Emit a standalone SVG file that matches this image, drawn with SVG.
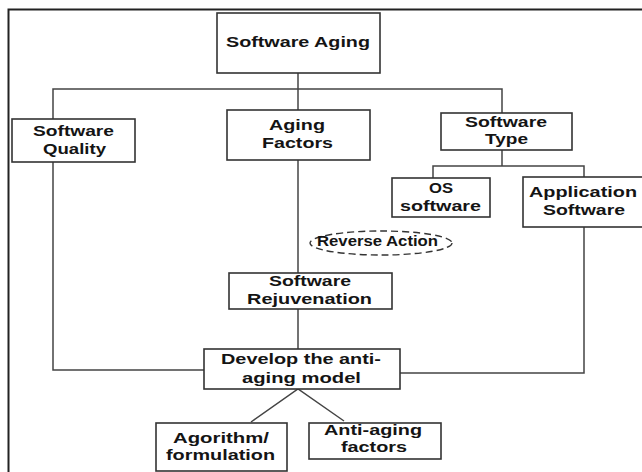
<svg xmlns="http://www.w3.org/2000/svg" width="642" height="472" viewBox="0 0 642 472">
<style>
.box{fill:#fff;stroke:#333;stroke-width:1.6}
.t{font-family:"Liberation Sans",Arial,sans-serif;font-weight:bold;font-size:15.5px;fill:#141414;text-anchor:middle}
.c{fill:none;stroke:#444;stroke-width:1.5}
</style>
<rect width="642" height="472" fill="#fff"/>
<path d="M8.5,472 V9.5 H642" fill="none" stroke="#222" stroke-width="2"/>
<g id="connectors">
<path class="c" d="M298,73 V110"/>
<path class="c" d="M53,119 V89 H502 V113"/>
<path class="c" d="M502,150 V166"/>
<path class="c" d="M433,178 V166 H584 V177"/>
<path class="c" d="M53,162 V370 H204"/>
<path class="c" d="M584,227 V373 H400"/>
<path class="c" d="M298,160 V273"/>
<path class="c" d="M298,309 V349"/>
<path class="c" d="M251,422 L298,389 L344,421"/>
</g>
<g id="software-aging">
<rect class="box" x="217" y="13" width="163" height="60"/>
<text class="t" x="298" y="47" font-size="17" textLength="144" lengthAdjust="spacingAndGlyphs">Software Aging</text>
</g>
<g id="software-quality">
<rect class="box" x="12" y="119" width="123" height="43"/>
<text class="t" x="73.5" y="136" textLength="81" lengthAdjust="spacingAndGlyphs">Software</text>
<text class="t" x="74.5" y="154" textLength="63" lengthAdjust="spacingAndGlyphs">Quality</text>
</g>
<g id="aging-factors">
<rect class="box" x="227" y="110" width="143" height="50"/>
<text class="t" x="297" y="130" textLength="56" lengthAdjust="spacingAndGlyphs">Aging</text>
<text class="t" x="297.5" y="148" textLength="71" lengthAdjust="spacingAndGlyphs">Factors</text>
</g>
<g id="software-type">
<rect class="box" x="441" y="113" width="131" height="37"/>
<text class="t" x="506" y="127" textLength="82" lengthAdjust="spacingAndGlyphs">Software</text>
<text class="t" x="506.5" y="144" textLength="43" lengthAdjust="spacingAndGlyphs">Type</text>
</g>
<g id="os-software">
<rect class="box" x="392" y="178" width="98" height="39"/>
<text class="t" x="441" y="193" textLength="24" lengthAdjust="spacingAndGlyphs">OS</text>
<text class="t" x="440.5" y="211" textLength="81" lengthAdjust="spacingAndGlyphs">software</text>
</g>
<g id="application-software">
<rect class="box" x="523" y="177" width="121" height="50"/>
<text class="t" x="583" y="197" textLength="108" lengthAdjust="spacingAndGlyphs">Application</text>
<text class="t" x="584" y="215" textLength="82" lengthAdjust="spacingAndGlyphs">Software</text>
</g>
<g id="reverse-action">
<ellipse cx="381" cy="243" rx="71" ry="12" fill="none" stroke="#333" stroke-width="1.4" stroke-dasharray="7,4"/>
<text class="t" x="377.5" y="246" font-size="14" textLength="121" lengthAdjust="spacingAndGlyphs">Reverse Action</text>
</g>
<g id="software-rejuvenation">
<rect class="box" x="229" y="273" width="163" height="36"/>
<text class="t" x="310" y="286" textLength="82" lengthAdjust="spacingAndGlyphs">Software</text>
<text class="t" x="309.5" y="304" textLength="125" lengthAdjust="spacingAndGlyphs">Rejuvenation</text>
</g>
<g id="develop-model">
<rect class="box" x="204" y="349" width="196" height="40"/>
<text class="t" x="301" y="364" textLength="160" lengthAdjust="spacingAndGlyphs">Develop the anti-</text>
<text class="t" x="301.5" y="383" textLength="119" lengthAdjust="spacingAndGlyphs">aging model</text>
</g>
<g id="algorithm">
<rect class="box" x="156" y="423" width="131" height="48"/>
<text class="t" x="221" y="443" textLength="96" lengthAdjust="spacingAndGlyphs">Agorithm/</text>
<text class="t" x="220.5" y="460" textLength="109" lengthAdjust="spacingAndGlyphs">formulation</text>
</g>
<g id="anti-aging-factors">
<rect class="box" x="309" y="423" width="132" height="36"/>
<text class="t" x="373" y="435" textLength="98" lengthAdjust="spacingAndGlyphs">Anti-aging</text>
<text class="t" x="374" y="452" textLength="66" lengthAdjust="spacingAndGlyphs">factors</text>
</g>
</svg>
